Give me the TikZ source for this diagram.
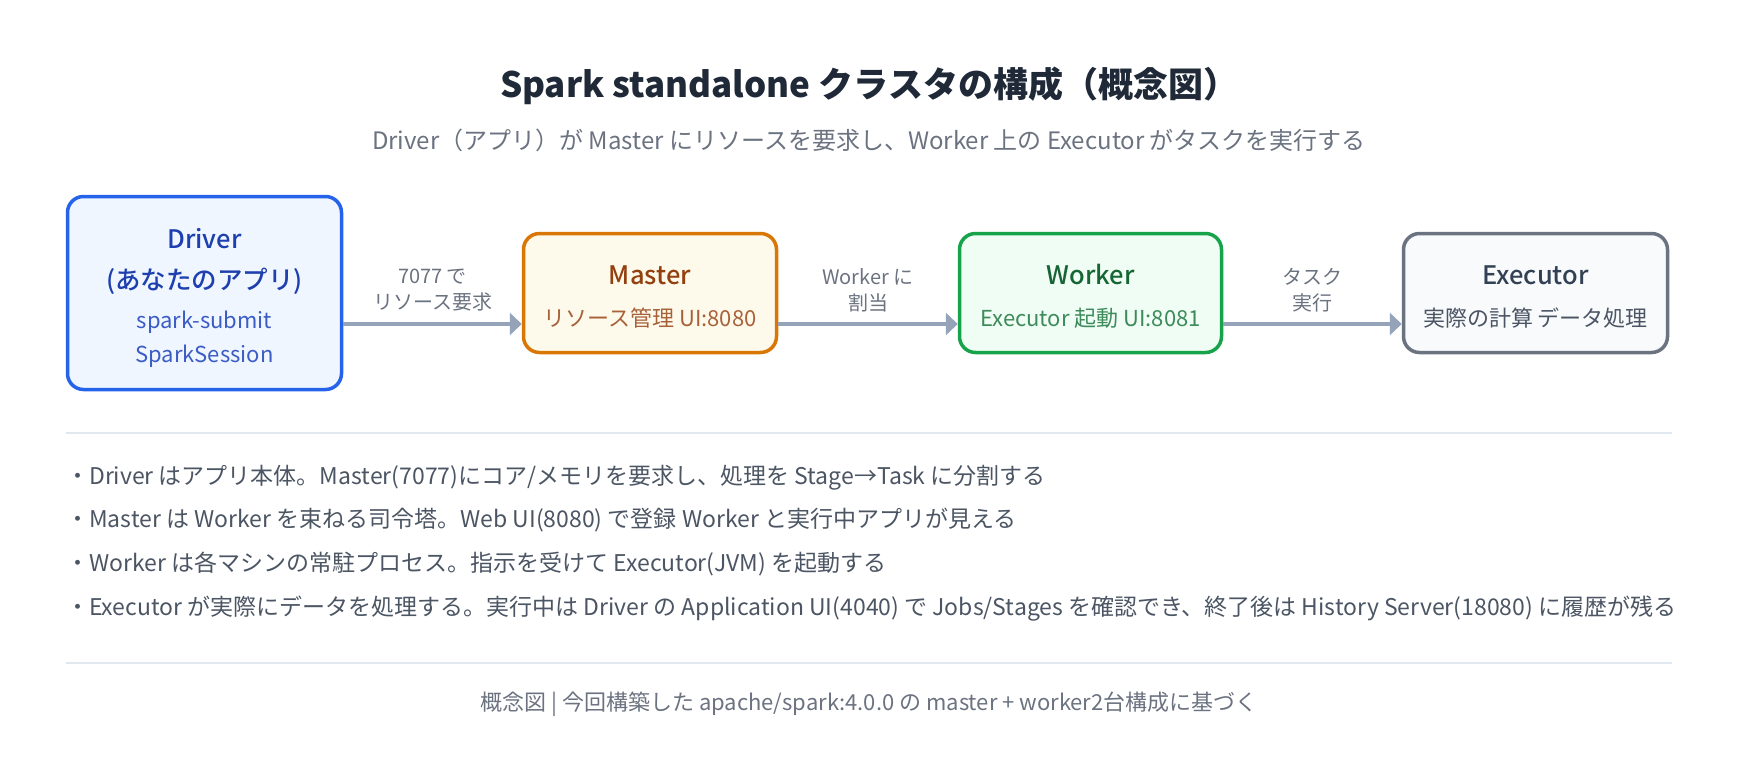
\documentclass[tikz,border=0pt]{standalone}
\usepackage{fontspec}
\setmainfont{Noto Sans CJK JP}
\newfontfamily\mediumfont{Noto Sans CJK JP Medium}
\usetikzlibrary{arrows.meta}

\definecolor{titleInk}{HTML}{1F2937}
\definecolor{mutedInk}{HTML}{6B7280}
\definecolor{noteInk}{HTML}{4B5563}
\definecolor{ruleLine}{HTML}{E2E8F0}
\definecolor{flowLine}{HTML}{94A3B8}
\definecolor{driverLine}{HTML}{2563EB}
\definecolor{driverFill}{HTML}{EFF6FF}
\definecolor{driverInk}{HTML}{1E40AF}
\definecolor{driverSub}{HTML}{3B5CC4}
\definecolor{masterLine}{HTML}{D97706}
\definecolor{masterFill}{HTML}{FEFAEB}
\definecolor{masterInk}{HTML}{92400E}
\definecolor{masterSub}{HTML}{A8623A}
\definecolor{workerLine}{HTML}{16A34A}
\definecolor{workerFill}{HTML}{F0FDF4}
\definecolor{workerInk}{HTML}{166534}
\definecolor{workerSub}{HTML}{3D8A5A}
\definecolor{execLine}{HTML}{6B7280}
\definecolor{execFill}{HTML}{F8FAFC}
\definecolor{execInk}{HTML}{334155}
\definecolor{execSub}{HTML}{4B5563}

\begin{document}
\begin{tikzpicture}[x=1pt,y=-1pt,
	box/.style={rectangle,rounded corners=16pt,line width=3.5pt,inner sep=0pt},
	head/.style={inner sep=0pt,font=\fontsize{25.5}{30}\mediumfont,text height=18.5pt,text depth=0pt},
	body/.style={inner sep=0pt,font=\fontsize{22}{26}\selectfont,text height=16pt,text depth=0pt},
	lbl/.style={inner sep=0pt,font=\fontsize{20}{26}\selectfont,text=mutedInk,align=center},
	note/.style={inner sep=0pt,anchor=west,font=\fontsize{23}{27}\selectfont,text=noteInk,text height=16.5pt,text depth=0pt},
	flow/.style={draw=flowLine,line width=4pt,-{Triangle[length=12pt,width=22pt]}},
	rule/.style={draw=ruleLine,line width=2pt}]
	\useasboundingbox (0,0) rectangle (1738,756);

	\node[inner sep=0pt,font=\fontsize{35}{40}\selectfont\bfseries,text=titleInk,text height=25.5pt,text depth=0pt] (title) at (869,85) {Spark standalone クラスタの構成（概念図）};
	\node[body,text=mutedInk,font=\fontsize{24}{28}\selectfont,text height=17.5pt] (subtitle) at (869,141) {Driver（アプリ）が Master にリソースを要求し、Worker 上の Executor がタスクを実行する};

	\node[box,draw=driverLine,fill=driverFill,minimum width=274pt,minimum height=193pt] (driver) at (204.5,293) {};
	\node[head,text=driverInk] (driverTitle) at (204.5,239) {Driver};
	\node[head,text=driverInk] (driverApp) at (204.5,280) {(あなたのアプリ)};
	\node[body,text=driverSub] (driverSubmit) at (204.5,320) {spark-submit};
	\node[body,text=driverSub] (driverSession) at (204.5,354) {SparkSession};

	\node[box,draw=masterLine,fill=masterFill,minimum width=253pt,minimum height=119pt] (master) at (650,293) {};
	\node[head,text=masterInk] (masterTitle) at (650,275) {Master};
	\node[body,text=masterSub] (masterSub) at (650,318) {リソース管理 UI:8080};

	\node[box,draw=workerLine,fill=workerFill,minimum width=262pt,minimum height=119pt] (worker) at (1090.5,293) {};
	\node[head,text=workerInk] (workerTitle) at (1090.5,275) {Worker};
	\node[body,text=workerSub] (workerSub) at (1090.5,318) {Executor 起動 UI:8081};

	\node[box,draw=execLine,fill=execFill,minimum width=264pt,minimum height=119pt] (executor) at (1535.5,293) {};
	\node[head,text=execInk] (executorTitle) at (1535.5,275) {Executor};
	\node[body,text=execSub] (executorSub) at (1535.5,318) {実際の計算 データ処理};

	\coordinate (arrowY) at (0,324);
	\path[flow] (driver.east |- arrowY) -- node[lbl,midway,yshift=34pt] (lblRequest) {7077 で\\リソース要求} (master.west |- arrowY);
	\path[flow] (master.east |- arrowY) -- node[lbl,midway,yshift=34pt] (lblAssign) {Worker に\\割当} (worker.west |- arrowY);
	\path[flow] (worker.east |- arrowY) -- node[lbl,midway,yshift=34pt] (lblTask) {タスク\\実行} (executor.west |- arrowY);

	\coordinate (ruleTopL) at (66,433);
	\coordinate (ruleTopR) at (1672,433);
	\path[rule] (ruleTopL) -- (ruleTopR);

	\node[note] (noteDriver) at (66,476) {・Driver はアプリ本体。Master(7077)にコア/メモリを要求し、処理を Stage→Task に分割する};
	\node[note] (noteMaster) at (66,519) {・Master は Worker を束ねる司令塔。Web UI(8080) で登録 Worker と実行中アプリが見える};
	\node[note] (noteWorker) at (66,563) {・Worker は各マシンの常駐プロセス。指示を受けて Executor(JVM) を起動する};
	\node[note] (noteExecutor) at (66,607) {・Executor が実際にデータを処理する。実行中は Driver の Application UI(4040) で Jobs/Stages を確認でき、終了後は History Server(18080) に履歴が残る};

	\coordinate (ruleBotL) at (66,663);
	\coordinate (ruleBotR) at (1672,663);
	\path[rule] (ruleBotL) -- (ruleBotR);

	\node[body,text=mutedInk,font=\fontsize{22}{26}\selectfont] (footer) at (869,702) {概念図 | 今回構築した apache/spark:4.0.0 の master + worker2台構成に基づく};
\end{tikzpicture}
\end{document}
